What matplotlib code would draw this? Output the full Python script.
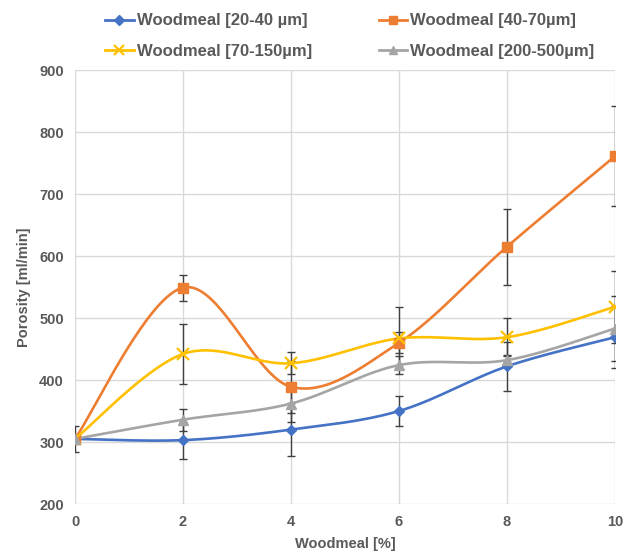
import numpy as np
import matplotlib
matplotlib.use("Agg")
import matplotlib.pyplot as plt

plt.rcParams['font.family'] = ['Liberation Sans', 'DejaVu Sans']

x = [0, 2, 4, 6, 8, 10]
labels = ["Woodmeal [20-40 µm]", "Woodmeal [40-70µm]", "Woodmeal [70-150µm]", "Woodmeal [200-500µm]"]
blue = [305, 303, 320, 350, 422, 469]
orange = [305, 549, 389, 460, 615, 761]
yellow = [305, 442, 427, 467, 469, 518]
gray = [305, 336, 362, 424, 432, 483]
blue_err = [21, 30, 43, 24, 39, 50]
orange_err = [0, 21, 42, 17, 61, 81]
yellow_err = [0, 49, 18, 50, 31, 58]
gray_err = [0, 18, 30, 15, 8, 52]

colors = ['#4472C4', '#ED7D31', '#FFC000', '#A5A5A5']
markers = ['D', 's', 'x', '^']
msizes = [5.5, 7.5, 8, 7]


def smooth(xs, ys, n=40):
    xs = np.asarray(xs, float)
    ys = np.asarray(ys, float)
    P = np.column_stack([xs, ys])
    P = np.vstack([P[0], P, P[-1]])
    out = []
    for i in range(1, len(P) - 2):
        p0, p1, p2, p3 = P[i - 1], P[i], P[i + 1], P[i + 2]
        c1 = p1 + (p2 - p0) / 6.0
        c2 = p2 - (p3 - p1) / 6.0
        t = np.linspace(0, 1, n)[:, None]
        seg = ((1 - t) ** 3) * p1 + 3 * ((1 - t) ** 2) * t * c1 + 3 * (1 - t) * t ** 2 * c2 + t ** 3 * p2
        out.append(seg if i == 1 else seg[1:])
    s = np.vstack(out)
    return s[:, 0], s[:, 1]


fig = plt.figure(figsize=(6.26, 5.58), dpi=100)
ax = fig.add_axes([75 / 626, 1 - 504 / 558, 540 / 626, 434 / 558])

series = [blue, orange, yellow, gray]
errs = [blue_err, orange_err, yellow_err, gray_err]
handles = []
for ys, er in zip(series, errs):
    ax.errorbar(x, ys, yerr=er, fmt='none', ecolor='#404040', elinewidth=1.0,
                capsize=3, capthick=1.0, zorder=2)
for ys, c, m, ms in zip(series, colors, markers, msizes):
    sx, sy = smooth(x, ys)
    ax.plot(sx, sy, color=c, lw=1.9, zorder=3, solid_capstyle='round')
    if m == 'x':
        ax.plot(x, ys, ls='none', marker=m, ms=ms, mec=c, mew=1.6, zorder=4)
    else:
        ax.plot(x, ys, ls='none', marker=m, ms=ms, color=c, mec=c, zorder=4)
    h, = ax.plot([], [], color=c, lw=2.0, marker=m, ms=ms * 0.85, mec=c,
                 mew=1.6 if m == 'x' else 1.0)
    handles.append(h)

ax.set_xlim(0, 10)
ax.set_ylim(200, 900)
ax.set_xticks(x)
ax.set_yticks(range(200, 901, 100))
ax.grid(True, color='#D9D9D9', lw=1.0, zorder=0)
ax.set_axisbelow(True)
for s in ax.spines.values():
    s.set_visible(False)
ax.tick_params(length=0, labelsize=10.5, labelcolor='#595959', pad=8)
for t in ax.get_xticklabels() + ax.get_yticklabels():
    t.set_fontweight('bold')
ax.set_xlabel('Woodmeal [%]', fontsize=10.5, fontweight='bold', color='#595959', labelpad=6)
ax.set_ylabel('Porosity [ml/min]', fontsize=10.5, fontweight='bold', color='#595959', labelpad=6)

order = [0, 2, 1, 3]
fig.legend([handles[i] for i in order], [labels[i] for i in order],
           loc='upper left', bbox_to_anchor=(97 / 626, 1 - 5 / 558), ncol=2,
           frameon=False, prop={'weight': 'bold', 'size': 12}, labelcolor='#595959',
           borderpad=0, handlelength=1.7, handletextpad=0.2, columnspacing=4.0,
           labelspacing=0.95)

fig.savefig('out.png', dpi=100)
